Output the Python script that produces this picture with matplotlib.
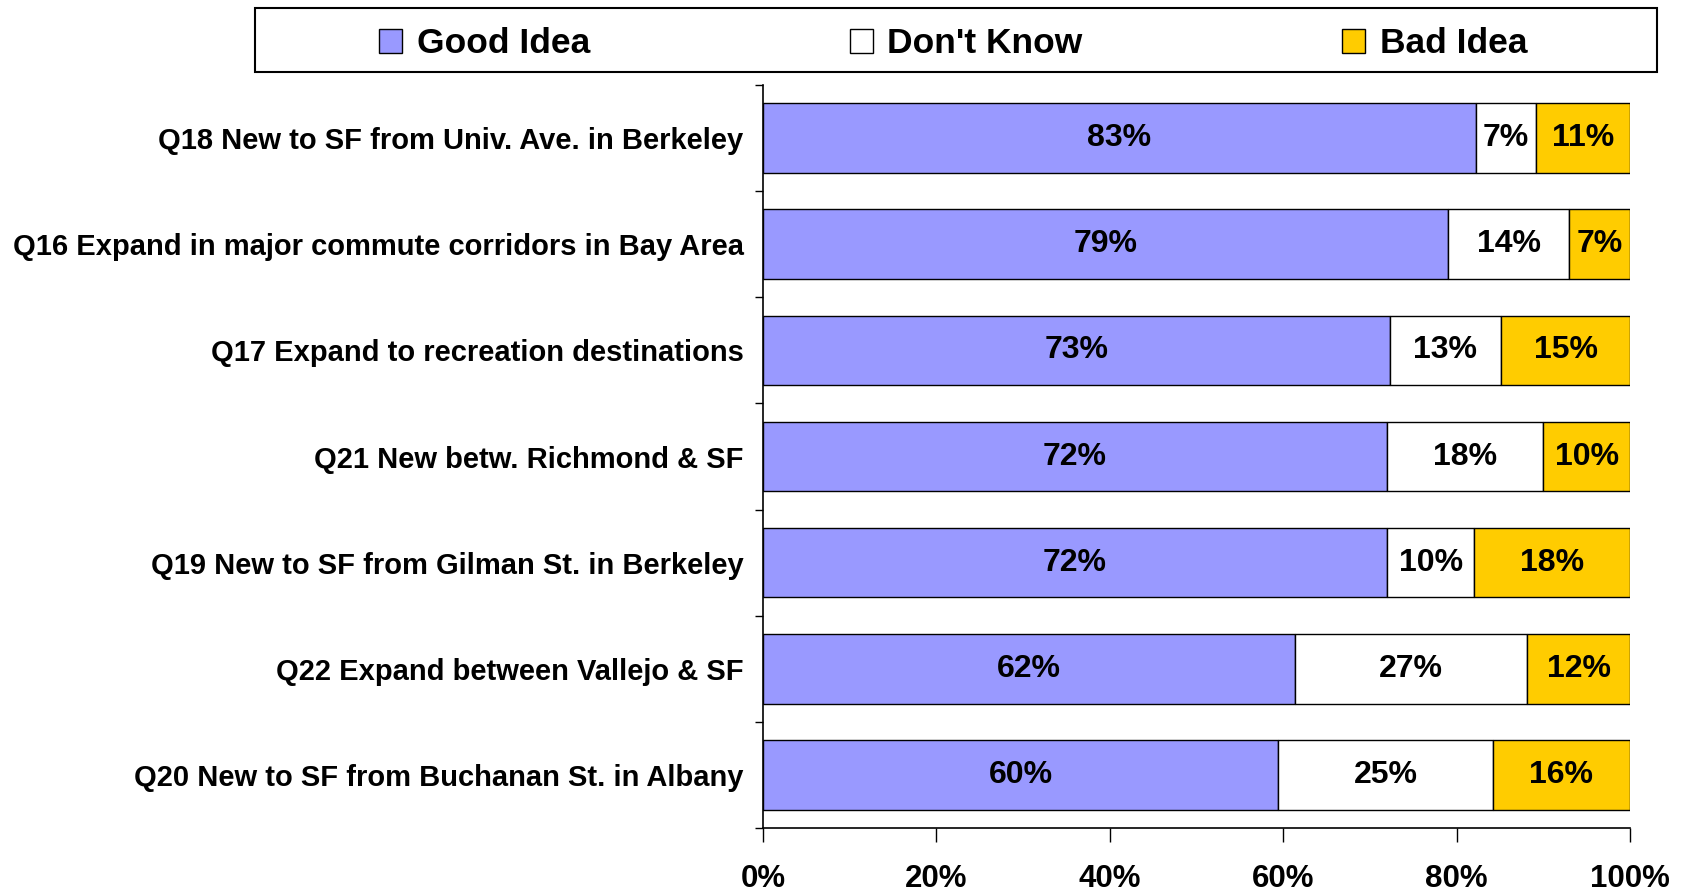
import matplotlib
matplotlib.use("Agg")
import matplotlib.pyplot as plt
import numpy as np
from matplotlib.ticker import PercentFormatter
from matplotlib.patches import Rectangle

plt.rcParams["font.family"] = ["Liberation Sans", "DejaVu Sans"]
plt.rcParams["font.weight"] = "bold"

categories = [
    "Q18 New to SF from Univ. Ave. in Berkeley",
    "Q16 Expand in major commute corridors in Bay Area",
    "Q17 Expand to recreation destinations",
    "Q21 New betw. Richmond & SF",
    "Q19 New to SF from Gilman St. in Berkeley",
    "Q22 Expand between Vallejo & SF",
    "Q20 New to SF from Buchanan St. in Albany",
]
good = [83, 79, 73, 72, 72, 62, 60]
dont_know = [7, 14, 13, 18, 10, 27, 25]
bad = [11, 7, 15, 10, 18, 12, 16]
series_names = ["Good Idea", "Don't Know", "Bad Idea"]
colors = ["#9999FF", "#FFFFFF", "#FFCC00"]
xticks = [0, 20, 40, 60, 80, 100]

fig = plt.figure(figsize=(16.85, 8.92), dpi=100)
ax = fig.add_axes([0.4528, 0.0717, 0.5146, 0.833])

series = [np.array(good, float), np.array(dont_know, float), np.array(bad, float)]
total = series[0] + series[1] + series[2]
y = np.arange(len(categories))
left = np.zeros(len(categories))
containers = []
for vals, name, col in zip(series, series_names, colors):
    share = vals / total * 100
    c = ax.barh(y, share, left=left, height=0.656, color=col, edgecolor="black",
                linewidth=1.0, label=name, zorder=3)
    ax.bar_label(c, labels=[f"{int(v)}%" for v in vals], label_type="center",
                 fontsize=23, fontweight="bold", color="black", zorder=4)
    containers.append(c)
    left = left + share

ax.set_xlim(0, 100)
ax.set_ylim(len(categories) - 0.5, -0.5)
ax.set_yticks(y, categories)
ax.set_yticks(np.arange(-0.5, len(categories), 1.0), minor=True)
ax.tick_params(axis="y", which="major", length=0, pad=14, labelsize=21)
ax.tick_params(axis="y", which="minor", length=6, width=1.0, direction="out")
ax.set_xticks(xticks)
ax.xaxis.set_major_formatter(PercentFormatter(decimals=0))
ax.tick_params(axis="x", which="major", length=10, width=1.0, direction="out",
               pad=16, labelsize=22.5)
for s in ["top", "right"]:
    ax.spines[s].set_visible(False)
for s in ["left", "bottom"]:
    ax.spines[s].set_linewidth(1.2)
for lab in ax.get_yticklabels() + ax.get_xticklabels():
    lab.set_fontweight("bold")

# legend frame
fig.patches.append(Rectangle((0.1513, 0.9193), 0.832, 0.0717, transform=fig.transFigure,
                             facecolor="white", edgecolor="black", linewidth=1.5, zorder=0))
leg = fig.legend(handles=containers, labels=series_names, loc="center",
                 bbox_to_anchor=(0.5657, 0.9507), ncol=3, frameon=False,
                 prop={"size": 25.5, "weight": "bold"}, columnspacing=7.32,
                 handlelength=0.65, handleheight=0.65, handletextpad=0.42)

fig.savefig("out.png", dpi=100, facecolor="white")
